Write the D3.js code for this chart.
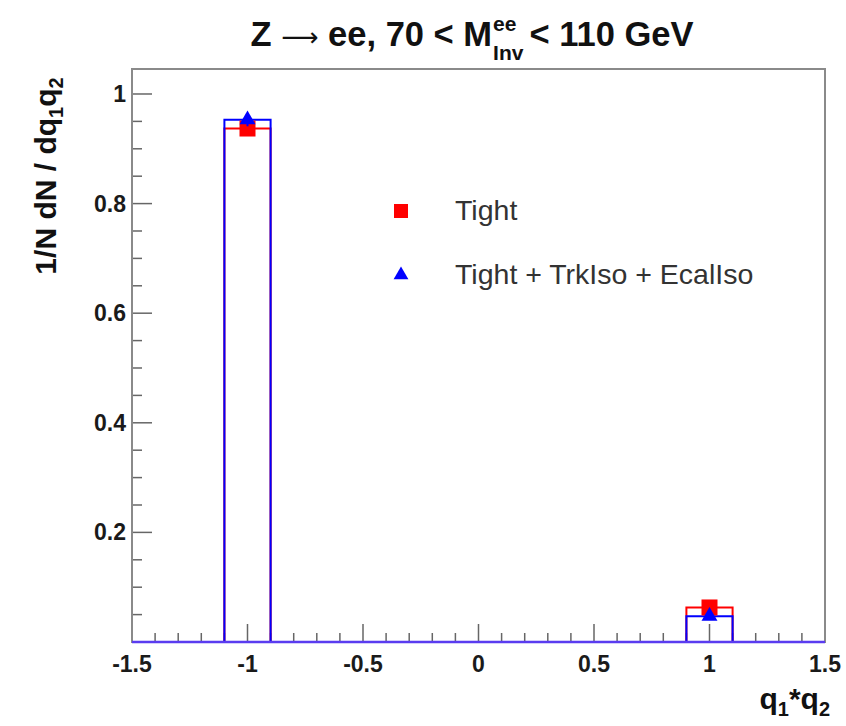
<!DOCTYPE html>
<html>
<head>
<meta charset="utf-8">
<script src="https://cdn.jsdelivr.net/npm/d3@7/dist/d3.min.js"></script>
<style>
  html, body { margin: 0; padding: 0; background: #fff; }
  svg { display: block; }
  text { font-family: "Liberation Sans", Arial, Helvetica, sans-serif; }
</style>
</head>
<body>
<svg id="chart" width="846" height="726"></svg>
<script>
// ---- data ----
const binCenters = [-1.4, -1.2, -1.0, -0.8, -0.6, -0.4, -0.2, 0.0, 0.2, 0.4, 0.6, 0.8, 1.0, 1.2, 1.4];
const binWidth = 0.2;
const tightValues = [0, 0, 0.937, 0, 0, 0, 0, 0, 0, 0, 0, 0, 0.063, 0, 0];
const isoValues   = [0, 0, 0.953, 0, 0, 0, 0, 0, 0, 0, 0, 0, 0.047, 0, 0];
const tightErrors = [0, 0, 0.004, 0, 0, 0, 0, 0, 0, 0, 0, 0, 0.003, 0, 0];
const isoErrors   = [0, 0, 0.012, 0, 0, 0, 0, 0, 0, 0, 0, 0, 0.003, 0, 0];
const xTickLabels = ["-1.5", "-1", "-0.5", "0", "0.5", "1", "1.5"];
const yTickLabels = ["0.2", "0.4", "0.6", "0.8", "1"];
const seriesNames = ["Tight", "Tight + TrkIso + EcalIso"];
const seriesColors = ["#ff0000", "#0000ff"];

// ---- layout ----
const W = 846, H = 726;
const L = 132, R = 825, T = 69, B = 642;
const svg = d3.select("#chart");

const x = d3.scaleLinear().domain([-1.5, 1.5]).range([L, R]);
const y = d3.scaleLinear().domain([0, 1.0456]).range([B, T]);

// ---- histograms ----
function stepPoints(vals) {
  const pts = vals.map((v, i) => [binCenters[i] - binWidth / 2, v]);
  pts.push([binCenters[binCenters.length - 1] + binWidth / 2, vals[vals.length - 1]]);
  return pts;
}
const stepLine = d3.line().x(d => x(d[0])).y(d => y(d[1])).curve(d3.curveStepAfter);

// ---- ticks ----
const axisColor = "#8a8a8a";
const tickColor = "#666";
const gTicks = svg.append("g");
const xMinor = d3.range(-15, 16).map(i => i / 10);
xMinor.forEach(v => {
  const major = Math.abs(Math.round(v * 2) - v * 2) < 1e-9;
  gTicks.append("line")
    .attr("x1", x(v)).attr("x2", x(v))
    .attr("y1", B).attr("y2", B - (major ? 18 : 9))
    .attr("stroke", tickColor).attr("stroke-width", 1.5);
});
const yMinor = d3.range(0, 21).map(i => i * 0.05);
yMinor.forEach(v => {
  const major = Math.abs(Math.round(v * 5) - v * 5) < 1e-9;
  gTicks.append("line")
    .attr("x1", L).attr("x2", L + (major ? 20 : 10))
    .attr("y1", y(v)).attr("y2", y(v))
    .attr("stroke", tickColor).attr("stroke-width", 1.5);
});

// histogram lines
[tightValues, isoValues].forEach((vals, k) => {
  svg.append("path")
    .attr("d", stepLine(stepPoints(vals)))
    .attr("fill", "none")
    .attr("stroke", seriesColors[k])
    .attr("stroke-width", 2);
});

// frame
svg.append("rect")
  .attr("x", L).attr("y", T).attr("width", R - L).attr("height", B - T)
  .attr("fill", "none").attr("stroke", axisColor).attr("stroke-width", 2);
svg.append("line").attr("x1", L).attr("x2", R).attr("y1", B).attr("y2", B)
  .attr("stroke", "#5a3cf0").attr("stroke-width", 2.5);

// markers
const gM = svg.append("g");
tightValues.forEach((v, i) => {
  if (v <= 0) return;
  const cx = x(binCenters[i]), cy = y(v);
  gM.append("line").attr("x1", cx).attr("x2", cx)
    .attr("y1", y(v + tightErrors[i])).attr("y2", y(v - tightErrors[i]))
    .attr("stroke", seriesColors[0]).attr("stroke-width", 2);
  gM.append("rect").attr("x", cx - 8).attr("y", cy - 8).attr("width", 16).attr("height", 16)
    .attr("fill", seriesColors[0]);
});
const tri = d3.symbol().type(d3.symbolTriangle).size(110);
isoValues.forEach((v, i) => {
  if (v <= 0) return;
  const cx = x(binCenters[i]), cy = y(v);
  gM.append("line").attr("x1", cx).attr("x2", cx)
    .attr("y1", y(v + isoErrors[i])).attr("y2", y(v - isoErrors[i]))
    .attr("stroke", seriesColors[1]).attr("stroke-width", 2);
  gM.append("path").attr("d", tri).attr("transform", `translate(${cx},${cy})`)
    .attr("fill", seriesColors[1]);
});

// tick labels
xTickLabels.forEach(s => {
  svg.append("text").attr("x", x(+s)).attr("y", 672)
    .attr("text-anchor", "middle").attr("font-size", 23).attr("font-weight", "bold")
    .attr("fill", "#1a1a1a").text(s);
});
yTickLabels.forEach(s => {
  svg.append("text").attr("x", 126).attr("y", y(+s) + 8)
    .attr("text-anchor", "end").attr("font-size", 23).attr("font-weight", "bold")
    .attr("fill", "#1a1a1a").text(s);
});

// title
const tFont = 34.5, tSmall = 21;
const title = svg.append("text").attr("y", 46).attr("font-size", tFont).attr("font-weight", "bold").attr("fill", "#111");
title.append("tspan").text("Z ");
title.append("tspan").attr("font-family", "DejaVu Sans").attr("font-weight", "normal").attr("font-size", 26).text("\u27F6");
title.append("tspan").text(" ee, 70 < M");
const w1 = title.node().getComputedTextLength();
const sup = svg.append("text").attr("y", 31).attr("font-size", tSmall).attr("font-weight", "bold").attr("fill", "#111").text("ee");
const sub = svg.append("text").attr("y", 60).attr("font-size", tSmall).attr("font-weight", "bold").attr("fill", "#111").text("Inv");
const wsup = Math.max(sup.node().getComputedTextLength(), sub.node().getComputedTextLength());
const rest = svg.append("text").attr("y", 46).attr("font-size", tFont).attr("font-weight", "bold").attr("fill", "#111").text(" < 110 GeV");
const w3 = rest.node().getComputedTextLength();
const gap = 5;
const total = w1 + 2 + wsup + gap + w3;
const tx0 = 472 - total / 2;
title.attr("x", tx0);
sup.attr("x", tx0 + w1 + 1);
sub.attr("x", tx0 + w1 + 1);
rest.attr("x", tx0 + w1 + 2 + wsup + gap);

// y label
const yl = svg.append("text")
  .attr("transform", "translate(56,176) rotate(-90)")
  .attr("text-anchor", "middle").attr("font-size", 30).attr("font-weight", "bold").attr("fill", "#111");
yl.append("tspan").text("1/N dN / dq");
yl.append("tspan").attr("font-size", 20).attr("dy", 7).text("1");
yl.append("tspan").attr("dy", -7).text("q");
yl.append("tspan").attr("font-size", 20).attr("dy", 7).text("2");

// x label
const xl = svg.append("text").attr("x", 830).attr("y", 709)
  .attr("text-anchor", "end").attr("font-size", 30).attr("font-weight", "bold").attr("fill", "#111");
xl.append("tspan").text("q");
xl.append("tspan").attr("font-size", 20).attr("dy", 7).text("1");
xl.append("tspan").attr("dy", -7).text("*q");
xl.append("tspan").attr("font-size", 20).attr("dy", 7).text("2");

// legend
const legY = [211, 275];
const lg = svg.append("g");
lg.append("rect").attr("x", 394).attr("y", legY[0] - 7).attr("width", 14).attr("height", 14).attr("fill", seriesColors[0]);
lg.append("path").attr("d", d3.symbol().type(d3.symbolTriangle).size(95)).attr("transform", `translate(401,${legY[1]})`).attr("fill", seriesColors[1]);
seriesNames.forEach((s, k) => {
  lg.append("text").attr("x", 455).attr("y", legY[k] + 9).attr("font-size", 28.5).attr("fill", "#333").text(s);
});
</script>
</body>
</html>
